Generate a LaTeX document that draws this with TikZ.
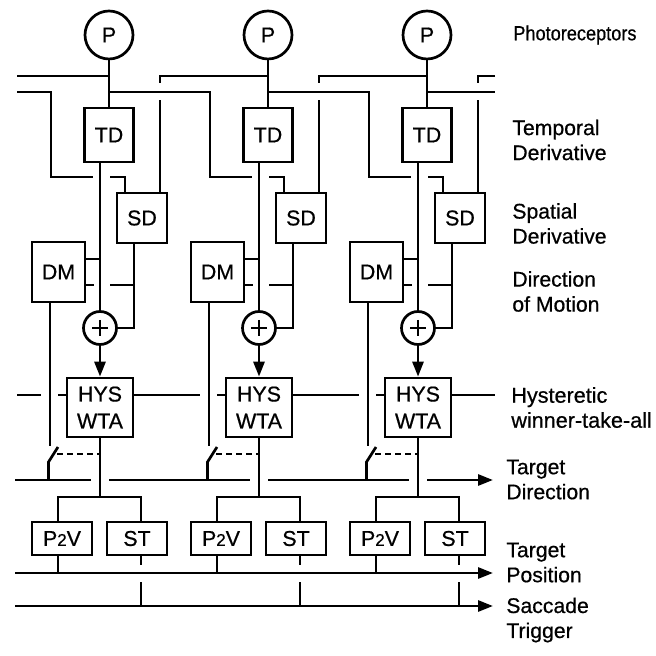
\documentclass[tikz,border=0pt]{standalone}
\usepackage{fontspec}
\setmainfont{Liberation Sans}[FakeBold=0.6]
\usetikzlibrary{arrows.meta,calc}
\newcommand\bxfont{\fontsize{10.7}{13.5}\selectfont}
\newcommand\lbfont{\fontsize{10.6}{12.5}\selectfont}
\begin{document}
\begin{tikzpicture}[x=0.5pt,y=-0.5pt,line width=1.35pt,
  >={Triangle[length=7.5pt,width=5.5pt]},
  box/.style={draw,line width=1.35pt,inner sep=0pt,align=center,font=\bxfont},
  pc/.style={draw,circle,line width=1.35pt,inner sep=0pt,minimum size=24pt,font=\bxfont},
  sumc/.style={draw,circle,line width=1.35pt,inner sep=0pt,minimum size=16.5pt},
  lab/.style={anchor=west,align=left,inner sep=0pt,font=\lbfont},
  swdash/.style={dash pattern=on 3pt off 2pt}]
\useasboundingbox (0,0) rectangle (655,656);
% global level coordinates
\coordinate (yA) at (0,259);
\coordinate (yB) at (0,285);
\coordinate (yX) at (0,177);
\coordinate (ySw) at (0,454);
\coordinate (yJ) at (0,497);
\coordinate (tdL) at (15,480);  \coordinate (tdR) at (493,480);
\coordinate (tpL) at (15,573);  \coordinate (tpR) at (493,573);
\coordinate (saL) at (15,606);  \coordinate (saR) at (493,606);
\coordinate (hyL) at (17,395);  \coordinate (hyR) at (495,395);
\coordinate (w1) at (17,76);
\coordinate (w2) at (17,92);
\coordinate (e1) at (495,76);
\coordinate (e2) at (495,92);

\foreach \i/\dx in {1/0,2/159,3/318}{
  \node[pc] (P\i) at (109+\dx,35) {P};
  \node[box,minimum width=24.5pt,minimum height=27pt] (TD\i) at (109+\dx,135) {TD};
  \node[box,minimum width=25pt,minimum height=25pt] (SD\i) at (142+\dx,218) {SD};
  \node[box,minimum width=26.5pt,minimum height=30pt] (DM\i) at (58.5+\dx,272) {DM};
  \node[sumc] (S\i) at (100+\dx,328) {};
  \node[box,minimum width=33pt,minimum height=29.5pt] (W\i) at (100+\dx,407.5) {HYS\\WTA};
  \node[box,minimum width=30pt,minimum height=16.5pt] (PV\i) at (62+\dx,538.5) {P{\fontsize{8.5}{10}\selectfont 2}V};
  \node[box,minimum width=30pt,minimum height=16.5pt] (ST\i) at (137+\dx,538.5) {ST};
  \coordinate (a\i) at (109+\dx,76);
  \coordinate (b\i) at (109+\dx,92);
  \coordinate (so\i) at (134+\dx,0);
  \coordinate (sr\i) at (160+\dx,0);
  \coordinate (sl\i) at (125+\dx,0);
  \coordinate (dmx\i) at (50+\dx,0);
  \coordinate (dmy\i) at (48.5+\dx,0);
  \coordinate (pvx\i) at (58+\dx,0);
  \coordinate (stx\i) at (141+\dx,0);
  % stem P -> TD
  \draw (P\i.south) -- (TD\i.north);
  % TD -> sum
  \draw (TD\i.south -| S\i) -- (S\i.north);
  % plus sign
  \draw (S\i.center) +(-8,0) -- +(8,0);
  \draw (S\i.center) +(0,-8) -- +(0,8);
  % SD -> sum
  \draw (SD\i.south -| so\i) |- (S\i.east);
  % DM stubs
  \draw (DM\i.east |- yA) -- (S\i |- yA);
  \draw (DM\i.east |- yB) -- ++(8,0);
  \draw ($(S\i |- yB)+(10,0)$) -- (so\i |- yB);
  % sum -> WTA
  \draw[->] (S\i.south) -- (W\i.north);
  % SD inputs (lower parts)
  \draw (sr\i |- SD\i.north) -- ++(0,-92);
  \draw ($(S\i |- yX)+(10,0)$) -| (sl\i |- SD\i.north);
  % DM output and switch
  \draw (DM\i.south -| dmx\i) -- ++(0,143);
  \draw ($(dmy\i |- ySw)+(9.5,-7)$) -- ($(dmy\i |- ySw)+(0,8)$) -- (dmy\i |- tdL);
  \draw[swdash] ($(dmy\i |- ySw)+(8.5,0)$) -- (W\i.south |- ySw);
  % WTA output
  \draw (W\i.south) -- (W\i.south |- yJ);
  \draw (pvx\i |- PV\i.north) |- (W\i.south |- yJ) -| (stx\i |- ST\i.north);
  \draw (pvx\i |- PV\i.south) -- (pvx\i |- tpL);
  \draw (stx\i |- ST\i.south) -- ++(0,9);
  \draw (stx\i |- tpL) ++(0,9) -- (stx\i |- saL);
}
% inter-column couplings
\foreach \i/\h/\dx in {2/1/159,3/2/318}{
  \draw (b\h) -| (51+\dx,177) -- ($(S\i |- yX)+(-7,0)$);
  \draw (a\i) -| ($(sr\h |- a\i)+(0,7)$);
}
% edges of the array
\draw (a1) -- (w1);
\draw (w2) -| (51,177) -- ($(S1 |- yX)+(-7,0)$);
\draw (e1) -| ($(sr3 |- e1)+(0,7)$);
\draw (b3) -- (e2);
% hysteretic line
\draw (hyL) -- ($(dmx1 |- hyL)+(-9,0)$);
\draw ($(dmx1 |- hyL)+(8,0)$) -- (W1.west |- hyL);
\draw (W1.east |- hyL) -- ($(dmx2 |- hyL)+(-9,0)$);
\draw ($(dmx2 |- hyL)+(8,0)$) -- (W2.west |- hyL);
\draw (W2.east |- hyL) -- ($(dmx3 |- hyL)+(-9,0)$);
\draw ($(dmx3 |- hyL)+(8,0)$) -- (W3.west |- hyL);
\draw (W3.east |- hyL) -- (hyR);
% target direction bus
\draw (tdL) -- ($(W1.south |- tdL)+(-9,0)$);
\draw ($(W1.south |- tdL)+(9,0)$) -- ($(W2.south |- tdL)+(-9,0)$);
\draw ($(W2.south |- tdL)+(9,0)$) -- ($(W3.south |- tdL)+(-9,0)$);
\draw[->] ($(W3.south |- tdL)+(9,0)$) -- (tdR);
% target position and saccade trigger buses
\draw[->] (tpL) -- (tpR);
\draw[->] (saL) -- (saR);
% labels
\node[lab,font=\fontsize{10.2}{12}\selectfont] (lP) at (512,35) {\scalebox{0.89}[1]{Photoreceptors}};
\node[lab] (lTD) at (511,140) {Temporal\\Derivative};
\node[lab] (lSD) at (511,223.5) {Spatial\\Derivative};
\node[lab] (lDM) at (511,291.5) {Direction\\of Motion};
\node[lab,font=\fontsize{10.8}{12.5}\selectfont] (lW) at (510,407.5) {Hysteretic\\winner-take-all};
\node[lab] (lTDir) at (505,479.5) {Target\\Direction};
\node[lab] (lTP) at (505,562.5) {Target\\Position};
\node[lab] (lSac) at (505,620) {Saccade\\Trigger};
\end{tikzpicture}
\end{document}
